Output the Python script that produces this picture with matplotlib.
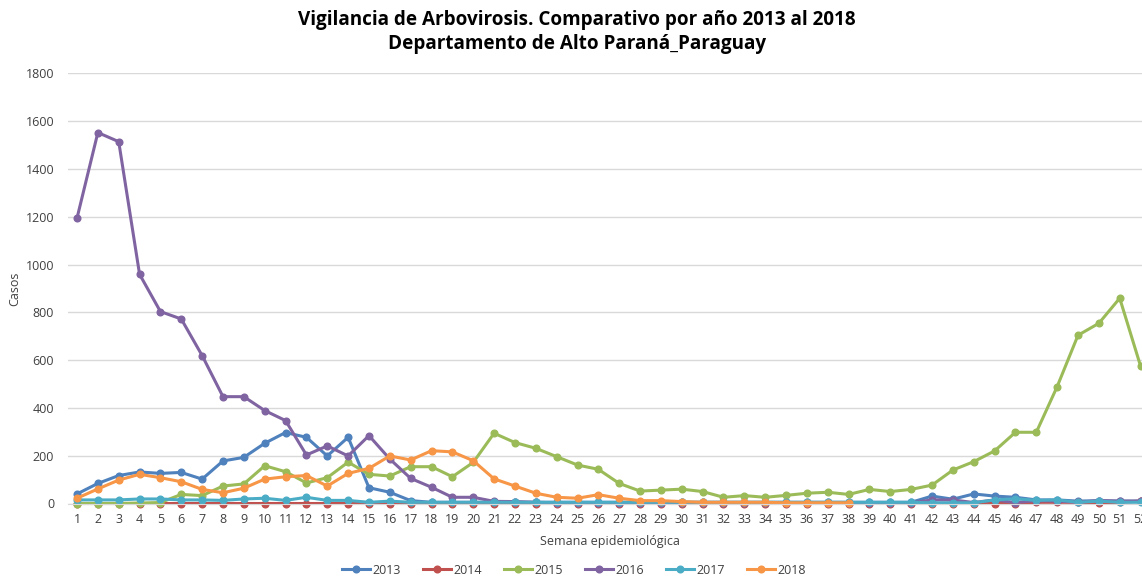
import matplotlib
matplotlib.use("Agg")
import matplotlib.pyplot as plt
import numpy as np

weeks = list(range(1, 53))

y2013 = [40, 84, 117, 132, 126, 130, 102, 178, 193, 252, 297, 277, 199, 277, 66, 47, 12, 5, 5, 5,
         5, 5, 5, 5, 5, 5, 5, 5, 5, 5, 5, 5, 5, 5, 5, 5, 5, 5, 5, 5,
         5, 31, 18, 40, 31, 26, 15, 15, 10, 12, 10, 10]
y2014 = [0, 0, 0, 0, 0, 0, 0, 0, 0, 0, 0, 0, 0, 0, 0, 0, 0, 0, 0, 0,
         0, 0, 0, 0, 0, 0, 0, 0, 0, 0, 0, 0, 0, 0, 0, 0, 0, 0, 0, 0,
         0, 0, 0, 0, 0, 0, 5, 5, 5, 3, 5, 10]
y2015 = [0, 0, 0, 2, 4, 38, 33, 73, 82, 158, 133, 86, 108, 173, 122, 115, 154, 154, 112, 172,
         294, 255, 231, 196, 161, 143, 84, 52, 56, 60, 50, 26, 33, 26, 34, 43, 47, 38, 59, 50,
         59, 77, 140, 175, 220, 298, 298, 489, 704, 754, 859, 575]
y2016 = [1194, 1552, 1514, 959, 803, 772, 619, 447, 447, 389, 347, 203, 241, 199, 284, 186, 105, 68, 26, 26,
         9, 8, 5, 3, 3, 3, 3, 3, 3, 3, 3, 3, 3, 3, 3, 3, 3, 3, 3, 3,
         3, 15, 15, 4, 15, 4, 12, 10, 5, 12, 10, 10]
y2017 = [15, 15, 15, 19, 19, 15, 15, 13, 19, 22, 13, 26, 13, 13, 5, 10, 5, 5, 5, 5,
         5, 5, 5, 5, 5, 5, 5, 5, 5, 5, 5, 5, 5, 5, 5, 5, 5, 5, 5, 5,
         5, 3, 3, 3, 15, 20, 13, 15, 5, 10, 5, 5]
y2018 = [22, 61, 98, 122, 108, 91, 59, 45, 64, 102, 112, 117, 73, 126, 147, 199, 182, 221, 216, 179,
         103, 73, 43, 26, 22, 37, 22, 12, 12, 8, 5, 5, 5, 5, 3, 3, 3, 3]

series_names = ["2013", "2014", "2015", "2016", "2017", "2018"]
series_values = [y2013, y2014, y2015, y2016, y2017, y2018]
colors = ["#4F81BD", "#C0504D", "#9BBB59", "#8064A2", "#4BACC6", "#F79646"]

W, H = 1142, 576
fig = plt.figure(figsize=(W / 100, H / 100), dpi=100)
plt.rcParams['font.family'] = ['Open Sans', 'DejaVu Sans']

left_px, right_px = 68, 1151
bottom_px, top_px = 503.5, 73.3
ax = fig.add_axes([left_px / W, (H - bottom_px) / H,
                   (right_px - left_px) / W, (bottom_px - top_px) / H])

for name, vals, c in zip(series_names, series_values, colors):
    ax.plot(weeks[:len(vals)], vals, color=c, lw=2.2, marker='o', ms=4.8,
            label=name, solid_joinstyle='round', clip_on=False)

ax.set_ylim(0, 1800)
ax.set_xlim(0.568, 52.5)
ax.set_yticks(np.arange(0, 1801, 200))
ax.set_xticks(weeks)
ax.set_xticklabels([str(w) for w in weeks])
ax.grid(axis='y', color='#D9D9D9', lw=1)
ax.set_axisbelow(True)
for s in ['top', 'right', 'left']:
    ax.spines[s].set_visible(False)
ax.spines['bottom'].set_color('#D9D9D9')
ax.tick_params(axis='both', length=0, labelsize=9, colors='#404040')
ax.tick_params(axis='y', pad=10)
ax.tick_params(axis='x', pad=7)

ax.set_ylabel("Casos", fontsize=9, color='#404040')
ax.yaxis.set_label_coords((21 - left_px) / (right_px - left_px), 0.5)
ax.set_xlabel("Semana epidemiológica", fontsize=9, color='#404040')
ax.xaxis.set_label_coords((610 - left_px) / (right_px - left_px), -(535 - bottom_px) / (bottom_px - top_px))

fig.text(577 / W, 1 - 20 / H, "Vigilancia de Arbovirosis. Comparativo por año 2013 al 2018",
         ha='center', va='center', fontsize=13.6, fontweight='bold', color='#000000')
fig.text(577 / W, 1 - 44 / H, "Departamento de Alto Paraná_Paraguay",
         ha='center', va='center', fontsize=13.6, fontweight='bold', color='#000000')

handles, labels = ax.get_legend_handles_labels()
fig.legend(handles, labels, loc='center', bbox_to_anchor=(574 / W, 1 - 570 / H), ncol=6,
           frameon=False, fontsize=9, handlelength=2.2, handletextpad=0.2, columnspacing=1.8,
           labelcolor='#404040')

fig.savefig("out.png", dpi=100)
